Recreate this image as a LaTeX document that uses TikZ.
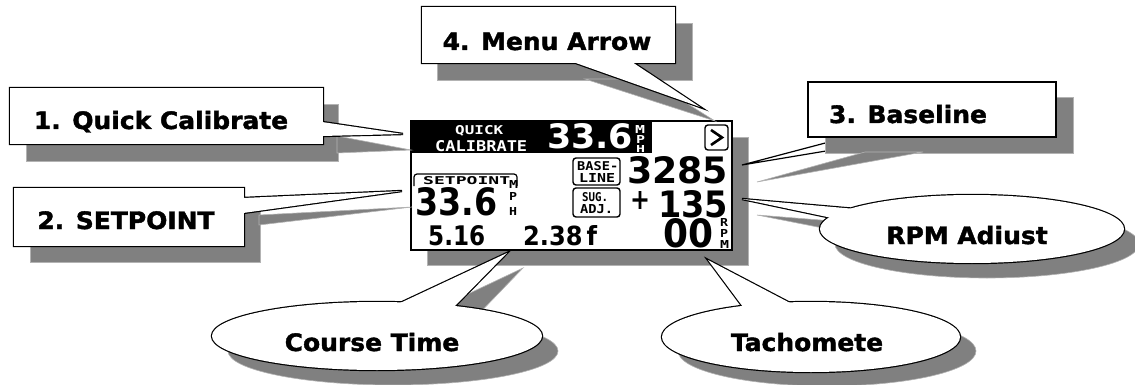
\documentclass[tikz,border=0pt]{standalone}
\usepackage{fontspec}
\usepackage{graphicx}
\newfontfamily\calloutfont{DejaVu Sans}[FakeStretch=1.04, FakeBold=1.6]
\newfontfamily\lcdfont{DejaVu Sans Mono}
\newfontfamily\lcddigits{DejaVu Sans}
\definecolor{shadowgray}{RGB}{128,128,128}
\newcommand{\fitto}[3]{\resizebox{#1pt}{#2pt}{#3}}

\begin{document}
\begin{tikzpicture}[x=1pt,y=-1pt,
  shade/.style={fill=shadowgray, draw=shadowgray!60!white, line width=0.6pt},
  rim/.style={line width=2.4pt},
  tag/.style={font=\calloutfont\bfseries\fontsize{24}{24}\selectfont, inner sep=0, anchor=base},
  lcd/.style={font=\lcdfont\bfseries, inner sep=0, anchor=north west},
  lcdbig/.style={font=\lcddigits\bfseries, inner sep=0, anchor=north west},
  lcdframe/.style={rounded corners=3pt, line width=1.4pt}]
\useasboundingbox (0,0) rectangle (1135,385);

% LCD screen
\fill[shade] (427,137) rectangle (748,265);
\fill[white] (411,121) rectangle (732,250);
\fill[black] (411,121) rectangle (652,153);
\draw[line width=1.5pt] (411,121) rectangle (732,250);
\node[lcd, text=white] (quickword) at (455,125) {\fitto{48}{9}{QUICK}};
\node[lcd, text=white] (caliword) at (435,140) {\fitto{92}{11}{CALIBRATE}};
\node[lcdbig, text=white] (quickval) at (547,123) {\fitto{86}{25}{33.6}};
\node[lcd, text=white] (quickm) at (635,125) {\fitto{10}{8}{M}};
\node[lcd, text=white] (quickp) at (636,135) {\fitto{9}{8}{P}};
\node[lcd, text=white] (quickh) at (636,145) {\fitto{9}{7}{H}};
\draw[lcdframe] (705,125) rectangle (728,150); % menu arrow
\draw[line width=2.6pt] (711,130) -- (722,137.5) -- (711,145);
\draw[lcdframe] (573,158) rectangle (620,185);
\node[lcd] (baseword) at (577,161) {\fitto{41}{9}{BASE-}};
\node[lcd] (lineword) at (579,173) {\fitto{36}{9}{LINE}};
\node[lcdbig] (baseval) at (627,156) {\fitto{101}{27}{3285}};
\draw[lcdframe] (573,188) rectangle (620,217);
\node[lcd] (sugword) at (582,192) {\fitto{26}{9}{SUG.}};
\node[lcd] (adjword) at (580,204) {\fitto{33}{9}{ADJ.}};
\node[lcdbig] (plus) at (630,191) {\fitto{20}{18}{+}};
\node[lcdbig] (adjval) at (658,190) {\fitto{70}{27}{135}};
\draw[rounded corners=3pt, line width=1.2pt] (414,186) |- (517,174) -- (517,186); % setpoint tab
\node[lcd] (setword) at (423,176) {\fitto{87}{8}{SETPOINT}};
\node[lcdbig] (setval) at (415,187) {\fitto{82}{28}{33.6}};
\node[lcd] (setm) at (509,180) {\fitto{9}{8}{M}};
\node[lcd] (setp) at (509,192) {\fitto{8}{8}{P}};
\node[lcd] (seth) at (509,207) {\fitto{8}{8}{H}};
\node[lcdbig] (timeval) at (428,225) {\fitto{57}{20}{5.16}};
\node[lcdbig] (distval) at (523,225) {\fitto{74}{20}{2.38\,f}};
\node[lcdbig] (tachval) at (663,218) {\fitto{50}{29}{00}};
\node[lcd] (rpmr) at (720,218) {\fitto{8}{8}{R}};
\node[lcd] (rpmp) at (720,229) {\fitto{8}{8}{P}};
\node[lcd] (rpmm) at (720,240) {\fitto{9}{8}{M}};

% 1. Quick Calibrate
\coordinate (quicktip) at (403,134);
\fill[shade] (26,104) rectangle (338,161);
\fill[shade] (337,136) -- (411,150) -- (337,153) -- cycle;
\draw[rim] (10,88) rectangle (323,144) (322,122) -- (quicktip) -- (322,136) -- cycle;
\fill[white] (10,88) rectangle (323,144);
\fill[white] (322,122) -- (quicktip) -- (322,136) -- cycle;
\node[tag] (quick) at (161,129) {1. Quick Calibrate};

% 2. SETPOINT
\coordinate (setptip) at (402,191);
\fill[shade] (30,205) rectangle (260,262);
\fill[shade] (259,215) -- (412,207) -- (259,225) -- cycle;
\draw[rim] (14,188) rectangle (244,246) (243,198) -- (setptip) -- (243,213) -- cycle;
\fill[white] (14,188) rectangle (244,246);
\fill[white] (243,198) -- (setptip) -- (243,213) -- cycle;
\node[tag] (setpoint) at (126,229) {2. SETPOINT};

% 4. Menu Arrow
\coordinate (menutip) at (700,107);
\fill[shade] (437,23) rectangle (692,80);
\fill[shade] (585,79) -- (715,121) -- (648,79) -- cycle;
\draw[rim] (422,7) rectangle (675,63) (573,62) -- (menutip) -- (632,62) -- cycle;
\fill[white] (422,7) rectangle (675,63);
\fill[white] (573,62) -- (menutip) -- (632,62) -- cycle;
\node[tag] (menu) at (547,50) {4. Menu Arrow};

% 3. Baseline (shadow lies over the pointer)
\coordinate (basetip) at (742,165);
\draw[line width=1.2pt, fill=white] (848,137) -- (basetip) -- (910,137);
\fill[shade] (825,97) rectangle (1073,153);
\fill[shade] (865,152) -- (757,182) -- (923,152) -- cycle;
\draw[line width=1.2pt, fill=white] (808,82) rectangle (1056,137);
\node[tag] (baseline) at (908,123) {3. Baseline};

% RPM Adiust
\coordinate (rpmtip) at (742,199);
\fill[shade] (987,244) ellipse [x radius=152pt, y radius=34pt];
\fill[shade] (871,224) -- (757,215) -- (848,233) -- cycle;
\draw[rim] (972,229) ellipse [x radius=152pt, y radius=34pt] (856,209) -- (rpmtip) -- (832,218) -- cycle;
\fill[white] (972,229) ellipse [x radius=152pt, y radius=34pt];
\fill[white] (856,209) -- (rpmtip) -- (832,218) -- cycle;
\node[tag] (rpm) at (967,244) {RPM Adiust};

% Course Time
\coordinate (coursetip) at (507,253);
\fill[shade] (393,351) ellipse [x radius=165pt, y radius=34pt];
\fill[shade] (415,319) -- (523,268) -- (470,323) -- cycle;
\draw[rim] (377,336) ellipse [x radius=165pt, y radius=34pt] (398,304) -- (coursetip) -- (453,308) -- cycle;
\fill[white] (377,336) ellipse [x radius=165pt, y radius=34pt];
\fill[white] (398,304) -- (coursetip) -- (453,308) -- cycle;
\node[tag] (course) at (372,351) {Course Time};

% Tachomete
\coordinate (tachtip) at (708,260);
\fill[shade] (827,351) ellipse [x radius=149pt, y radius=35pt];
\fill[shade] (759,322) -- (724,275) -- (808,318) -- cycle;
\draw[rim] (811,337) ellipse [x radius=149pt, y radius=35pt] (743,307) -- (tachtip) -- (792,304) -- cycle;
\fill[white] (811,337) ellipse [x radius=149pt, y radius=35pt];
\fill[white] (743,307) -- (tachtip) -- (792,304) -- cycle;
\node[tag] (tach) at (807,351) {Tachomete};

\end{tikzpicture}
\end{document}
